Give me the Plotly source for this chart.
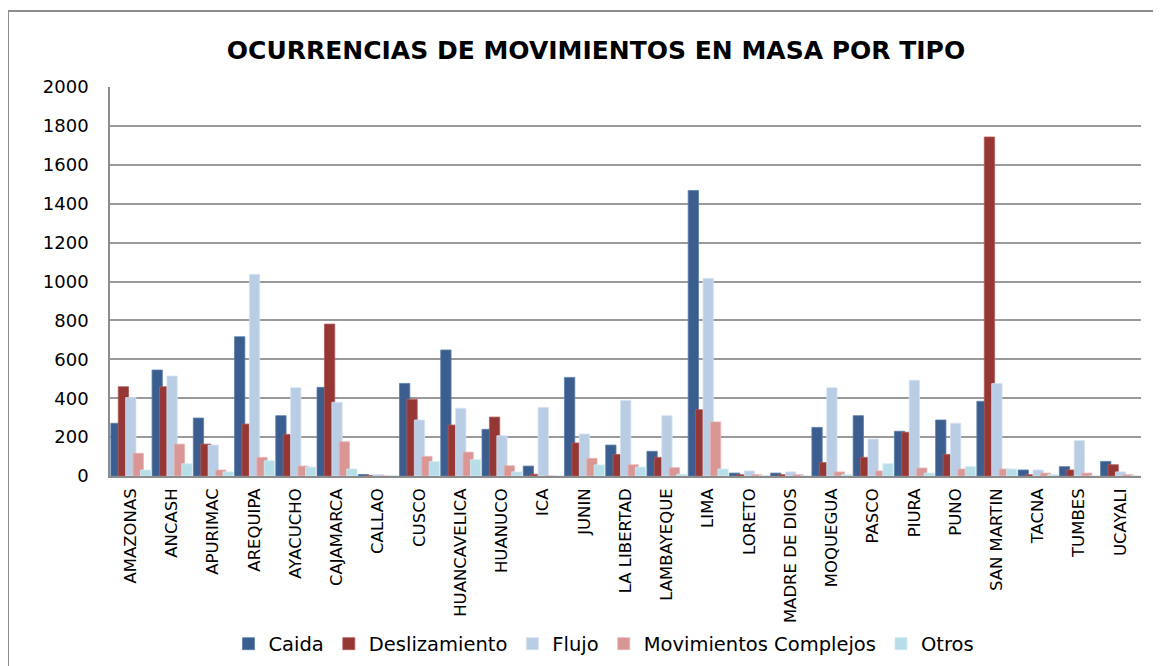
import plotly.graph_objects as go

# Departamentos (eje X)
departamentos = [
    "AMAZONAS", "ANCASH", "APURIMAC", "AREQUIPA", "AYACUCHO", "CAJAMARCA",
    "CALLAO", "CUSCO", "HUANCAVELICA", "HUANUCO", "ICA", "JUNIN",
    "LA LIBERTAD", "LAMBAYEQUE", "LIMA", "LORETO", "MADRE DE DIOS",
    "MOQUEGUA", "PASCO", "PIURA", "PUNO", "SAN MARTIN", "TACNA",
    "TUMBES", "UCAYALI",
]

# Ocurrencias por tipo
caida = [271, 545, 298, 716, 310, 456, 8, 476, 648, 240, 51, 507,
         159, 127, 1468, 15, 15, 250, 310, 230, 288, 384, 31, 48, 75]
deslizamiento = [459, 459, 164, 267, 214, 781, 2, 394, 262, 303, 9, 170,
                 111, 96, 341, 7, 7, 69, 96, 225, 111, 1743, 7, 31, 58]
flujo = [403, 514, 159, 1037, 454, 379, 8, 288, 348, 207, 353, 216,
         389, 310, 1016, 26, 21, 454, 190, 492, 271, 475, 31, 182, 21]
mov_complejos = [117, 164, 31, 96, 51, 176, 0, 101, 123, 53, 0, 91,
                 58, 43, 278, 7, 7, 21, 26, 41, 36, 36, 15, 15, 7]
otros = [31, 63, 21, 79, 46, 36, 2, 74, 84, 21, 0, 57,
         46, 9, 36, 2, 0, 7, 63, 15, 48, 36, 7, 0, 0]

series = [
    ("Caida", caida, "#3B5E8E", "#5A7DAA"),
    ("Deslizamiento", deslizamiento, "#953735", "#B05A58"),
    ("Flujo", flujo, "#B9CDE5", "#D6E2F0"),
    ("Movimientos Complejos", mov_complejos, "#D99694", "#E8B5B4"),
    ("Otros", otros, "#B7DEE8", "#D3EBF1"),
]

font_family = "DejaVu Sans, sans-serif"

# la pagina tiene 8px de margen en el body: la figura se reduce en eso
W, H = 1153, 658

fig = go.Figure()
for i, (name, vals, color, edge) in enumerate(series):
    fig.add_trace(go.Bar(
        x=departamentos,
        y=vals,
        name=name,
        marker=dict(color=color, line=dict(color=edge, width=0.8)),
        width=0.25,
        offset=-0.48 + i * 0.18,
    ))

fig.update_layout(
    width=W,
    height=H,
    barmode="overlay",
    paper_bgcolor="white",
    plot_bgcolor="white",
    margin=dict(l=102, r=20, t=79, b=190, autoexpand=False),
    font=dict(family=font_family, size=16, color="black"),
    title=dict(
        text="<b>OCURRENCIAS DE MOVIMIENTOS EN MASA POR TIPO</b>",
        x=588 / W, xanchor="center",
        y=1 - 42 / H, yanchor="middle",
        font=dict(size=25, family=font_family, color="black"),
    ),
    xaxis=dict(
        type="category",
        tickangle=-90,
        showgrid=False,
        showline=True,
        linecolor="#8C8C8C",
        linewidth=1.5,
        ticks="",
        tickfont=dict(size=16.5),
        ticklabelstandoff=4,
        range=[-0.5, len(departamentos) - 0.5],
    ),
    yaxis=dict(
        range=[0, 2000],
        dtick=200,
        showgrid=True,
        gridcolor="#9A9A9A",
        gridwidth=1.5,
        showline=True,
        linecolor="#8C8C8C",
        linewidth=1.5,
        zeroline=False,
        ticks="",
        tickfont=dict(size=18),
        ticklabelstandoff=16,
    ),
    legend=dict(
        orientation="h",
        xref="container", yref="container",
        x=596 / W, xanchor="center",
        y=1 - 636 / H, yanchor="middle",
        font=dict(size=19.5),
        itemwidth=30,
        bgcolor="rgba(0,0,0,0)",
        traceorder="normal",
    ),
    showlegend=True,
)

# borde del area del grafico
fig.add_shape(
    type="rect", xref="paper", yref="paper",
    x0=-102 / 1031, x1=1.05, y0=-0.6, y1=465 / 389,
    line=dict(color="#8C8C8C", width=2),
    fillcolor="rgba(0,0,0,0)",
    layer="below",
)

fig.write_html("out.html")
